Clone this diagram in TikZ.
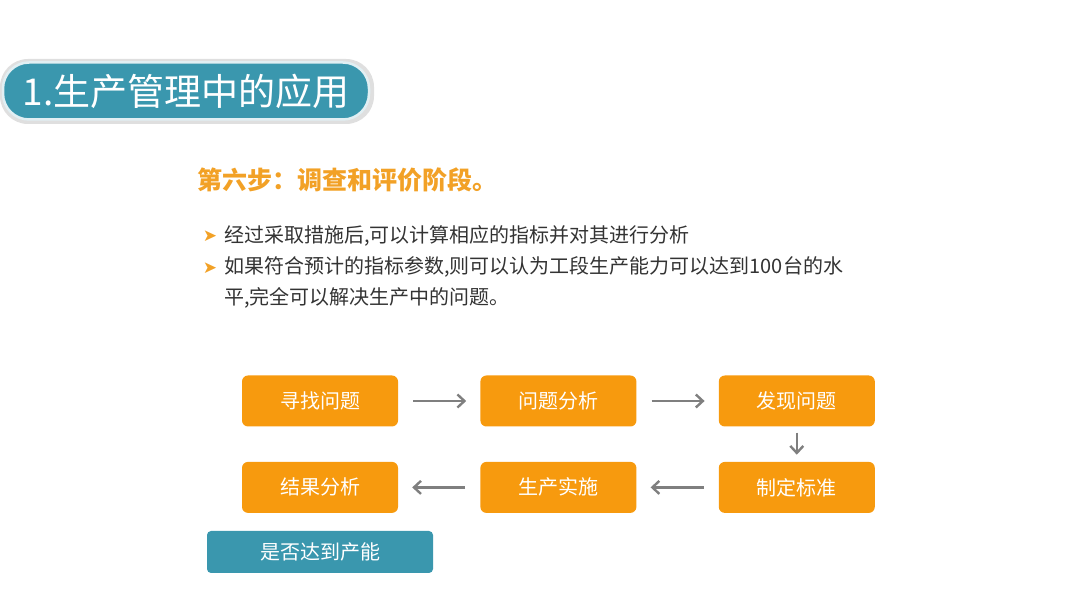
\documentclass[tikz,border=0pt]{standalone}
\usepackage{fontspec}
\setmainfont{Noto Sans CJK SC}
\newfontfamily\arrowfont{DejaVu Sans}
\usepackage{xcolor}
\usetikzlibrary{arrows.meta,positioning}
\definecolor{bannerteal}{HTML}{3A97AE}
\definecolor{steporange}{HTML}{F79A0E}
\definecolor{headorange}{HTML}{F2A126}
\definecolor{arrowgray}{HTML}{7F7F7F}
\definecolor{bodytext}{HTML}{333333}

\begin{document}
\begin{tikzpicture}[
  x=1pt,y=1pt,
  node distance=82pt,
  stepbox/.style={fill=steporange,rounded corners=6pt,minimum width=156pt,minimum height=51pt,
    text=white,font=\fontsize{20}{22}\selectfont,inner sep=0pt},
  arr/.style={-{Straight Barb[length=7pt,width=13pt]},draw=arrowgray,line width=2.4pt,
    shorten <=15pt,shorten >=14pt},
  bullet/.style={text=headorange,font=\arrowfont\fontsize{17}{19}\selectfont,inner sep=0pt},
  linetext/.style={anchor=west,text=bodytext,font=\fontsize{20}{31}\selectfont,align=left,inner sep=0pt}
]
  \useasboundingbox (0,0) rectangle (1080,608);
  % title banner
  \fill[gray!25,rounded corners=28pt] (0,484) rectangle (374,549);
  \node[fill=bannerteal,draw=white!85!bannerteal,line width=2.5pt,rounded corners=26pt,
    minimum width=366pt,minimum height=57pt,text=white,font=\fontsize{37}{40}\selectfont,
    inner sep=0pt] (title) at (186,517) {1.生产管理中的应用};
  % heading and notes
  \node[anchor=west,text=headorange,font=\bfseries\fontsize{25}{28}\selectfont,inner sep=0pt]
    (heading) at (197,428) {第六步：调查和评价阶段。};
  \node[bullet] (b1) at (210,372) {➤};
  \node[linetext] (t1) at (224,372) {经过采取措施后,可以计算相应的指标并对其进行分析};
  \node[bullet] (b2) at (210,340) {➤};
  \node[linetext,anchor=north west] (t2) at (224,352)
    {如果符合预计的指标参数,则可以认为工段生产能力可以达到100台的水\\平,完全可以解决生产中的问题。};
  % process boxes
  \node[stepbox] (find) at (320,207) {寻找问题};
  \node[stepbox,right=of find] (analyze) {问题分析};
  \node[stepbox,right=of analyze] (discover) {发现问题};
  \node[stepbox,below=35pt of discover] (standard) {制定标准};
  \node[stepbox,left=of standard] (produce) {生产实施};
  \node[stepbox,left=of produce] (result) {结果分析};
  \draw[arr] (find) -- (analyze);
  \draw[arr] (analyze) -- (discover);
  \draw[arr,shorten <=6pt,shorten >=7pt] (discover) -- (standard);
  \draw[arr] (standard) -- (produce);
  \draw[arr] (produce) -- (result);
  \node[fill=bannerteal,rounded corners=4pt,minimum width=226pt,minimum height=42pt,
    text=white,font=\fontsize{20}{22}\selectfont,inner sep=0pt] (check) at (320,56) {是否达到产能};
\end{tikzpicture}
\end{document}
